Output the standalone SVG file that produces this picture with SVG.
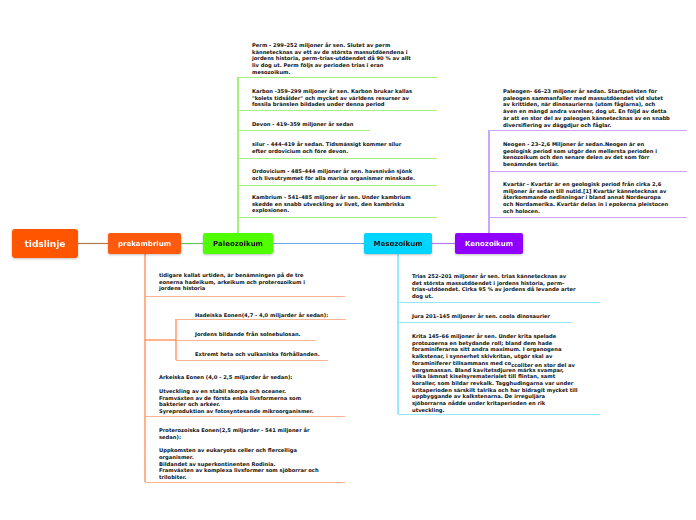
<svg xmlns="http://www.w3.org/2000/svg" width="696" height="520" viewBox="0 0 696 520">
<defs>
<filter id="sh" x="-20%" y="-20%" width="140%" height="150%">
<feDropShadow dx="0" dy="1" stdDeviation="1" flood-color="#000" flood-opacity="0.25"/>
</filter>
<style>
.t{font-family:"DejaVu Sans",Verdana,sans-serif;font-weight:bold;font-size:5.2px;fill:#111}
.nl{font-family:"DejaVu Sans",Verdana,sans-serif;font-weight:bold;font-size:7px;text-anchor:middle}
.ul{fill:none;stroke-width:1}
.g{stroke:#A6F07C}.gv{stroke:#6BE52C}
.p{stroke:#CDA2F7}.pv{stroke:#A66CF2}
.o{stroke:#FFB391}.ov{stroke:#FF7F3F}
.c{stroke:#93E7FF}.cv{stroke:#55DAFF}
</style>
</defs>
<rect width="696" height="520" fill="#fff"/>
<g id="connectors" fill="none" stroke-width="1.2">
<line x1="78" y1="243.5" x2="108" y2="243.5" stroke="#B27A48"/>
<line x1="181" y1="243.5" x2="203" y2="243.5" stroke="#66C65A"/>
<line x1="273" y1="243.5" x2="364" y2="243.5" stroke="#6AAAF0"/>
<line x1="432" y1="243.5" x2="455" y2="243.5" stroke="#B67CF5"/>
<line class="gv" x1="238" y1="77" x2="238" y2="233"/>
<line class="pv" x1="489" y1="130" x2="489" y2="233"/>
<line class="ov" x1="145" y1="254" x2="145" y2="482"/>
<line class="ov" x1="145" y1="340" x2="176" y2="340"/>
<line class="ov" x1="176" y1="319" x2="176" y2="360"/>
<line class="cv" x1="398" y1="254" x2="398" y2="414"/>
</g>
<g id="tidslinje" filter="url(#sh)">
<rect x="12" y="229" width="66" height="29" rx="3" fill="#FF5500"/>
<text x="45" y="246.8" class="nl" style="font-size:9px" fill="#fff">tidslinje</text>
</g>
<g id="prekambrium" filter="url(#sh)">
<rect x="108" y="233" width="73" height="21" rx="2" fill="#FF5A0A"/>
<text x="144.5" y="246.1" class="nl" fill="#fff">prekambrium</text>
</g>
<g id="paleozoikum" filter="url(#sh)">
<rect x="203" y="233" width="70" height="21" rx="2" fill="#50FF00"/>
<text x="238" y="246.1" class="nl" fill="#111">Paleozoikum</text>
</g>
<g id="mesozoikum" filter="url(#sh)">
<rect x="364" y="233" width="68" height="21" rx="2" fill="#00D5FF"/>
<text x="398" y="246.1" class="nl" fill="#111">Mesozoikum</text>
</g>
<g id="kenozoikum" filter="url(#sh)">
<rect x="455" y="233" width="68" height="21" rx="2" fill="#9000FF"/>
<text x="489" y="246.1" class="nl" fill="#fff">Kenozoikum</text>
</g>
<g id="perm">
<text class="t" x="252" y="47"><tspan x="252">Perm -  299–252 miljoner år sen. Slutet av perm</tspan><tspan x="252" dy="6.7">kännetecknas av ett av de största massutdöendena i</tspan><tspan x="252" dy="6.7">jordens historia, perm–trias-utdöendet då 90 % av allt</tspan><tspan x="252" dy="6.7">liv dog ut. Perm följs av perioden trias i eran</tspan><tspan x="252" dy="6.7">mesozoikum.</tspan></text>
<line class="ul g" x1="238" y1="77.5" x2="437" y2="77.5"/>
</g>
<g id="karbon">
<text class="t" x="252" y="93"><tspan x="252">Karbon -359–299 miljoner år sen. Karbon brukar kallas</tspan><tspan x="252" dy="6.7">"kolets tidsålder" och mycket av världens resurser av</tspan><tspan x="252" dy="6.7">fossila bränslen bildades under denna period</tspan></text>
<line class="ul g" x1="238" y1="110.5" x2="437" y2="110.5"/>
</g>
<g id="devon">
<text class="t" x="252" y="126">Devon - 419–359 miljoner år sedan</text>
<line class="ul g" x1="238" y1="130.5" x2="370" y2="130.5"/>
</g>
<g id="silur">
<text class="t" x="252" y="146"><tspan x="252">silur - 444–419 år sedan. Tidsmässigt kommer silur</tspan><tspan x="252" dy="6.7">efter ordovicium och före devon.</tspan></text>
<line class="ul g" x1="238" y1="158.5" x2="437" y2="158.5"/>
</g>
<g id="ordovicium">
<text class="t" x="252" y="173"><tspan x="252">Ordovicium - 485–444 miljoner år sen. havsnivån sjönk</tspan><tspan x="252" dy="6.7">och livsutrymmet för alla marina organismer minskade.</tspan></text>
<line class="ul g" x1="238" y1="185.5" x2="437" y2="185.5"/>
</g>
<g id="kambrium">
<text class="t" x="252" y="199"><tspan x="252">Kambrium - 541–485 miljoner år sen. Under kambrium</tspan><tspan x="252" dy="6.7">skedde en snabb utveckling av livet, den kambriska</tspan><tspan x="252" dy="6.7">explosionen.</tspan></text>
<line class="ul g" x1="238" y1="217.5" x2="437" y2="217.5"/>
</g>
<g id="paleogen">
<text class="t" x="503" y="93"><tspan x="503">Paleogen- 66–23 miljoner år sedan. Startpunkten för</tspan><tspan x="503" dy="6.7">paleogen sammanfaller med massutdöendet vid slutet</tspan><tspan x="503" dy="6.7">av krittiden, när dinosaurierna (utom fåglarna), och</tspan><tspan x="503" dy="6.7">även en mängd andra varelser, dog ut. En följd av detta</tspan><tspan x="503" dy="6.7">är att en stor del av paleogen kännetecknas av en snabb</tspan><tspan x="503" dy="6.7">diversifiering av däggdjur och fåglar.</tspan></text>
<line class="ul p" x1="489" y1="130.5" x2="687" y2="130.5"/>
</g>
<g id="neogen">
<text class="t" x="503" y="146"><tspan x="503">Neogen - 23–2,6 Miljoner år sedan.Neogen är en</tspan><tspan x="503" dy="6.7">geologisk period som utgör den mellersta perioden i</tspan><tspan x="503" dy="6.7">kenozoikum och den senare delen av det som förr</tspan><tspan x="503" dy="6.7">benämndes tertiär.</tspan></text>
<line class="ul p" x1="489" y1="171.5" x2="687" y2="171.5"/>
</g>
<g id="kvartar">
<text class="t" x="503" y="186"><tspan x="503">Kvartär -  Kvartär är en geologisk period från cirka 2,6</tspan><tspan x="503" dy="6.7">miljoner år sedan till nutid.[1] Kvartär kännetecknas av</tspan><tspan x="503" dy="6.7">återkommande nedisningar i bland annat Nordeuropa</tspan><tspan x="503" dy="6.7">och Nordamerika. Kvartär delas in i epokerna pleistocen</tspan><tspan x="503" dy="6.7">och holocen.</tspan></text>
<line class="ul p" x1="489" y1="217.5" x2="687" y2="217.5"/>
</g>
<g id="urtiden">
<text class="t" x="159" y="277"><tspan x="159"> tidigare kallat urtiden, är benämningen på de tre</tspan><tspan x="159" dy="6.7">eonerna hadeikum, arkeikum och proterozoikum i</tspan><tspan x="159" dy="6.7">jordens historia</tspan></text>
<line class="ul o" x1="145" y1="296.5" x2="345" y2="296.5"/>
</g>
<g id="hadeiska">
<text class="t" x="195" y="316.5">Hadeiska Eonen(4,7 - 4,0 miljarder år sedan):</text>
<line class="ul o" x1="176" y1="319.5" x2="346" y2="319.5"/>
</g>
<g id="jordens">
<text class="t" x="195" y="336">Jordens bildande från solnebulosan.</text>
<line class="ul o" x1="176" y1="340.5" x2="316" y2="340.5"/>
</g>
<g id="extremt">
<text class="t" x="195" y="355.7">Extremt heta och vulkaniska förhållanden.</text>
<line class="ul o" x1="176" y1="360.5" x2="328" y2="360.5"/>
</g>
<g id="arkeiska">
<text class="t" x="159" y="379"><tspan x="159">Arkeiska Eonen (4,0 - 2,5 miljarder år sedan):</tspan><tspan x="159" dy="13.8">Utveckling av en stabil skorpa och oceaner.</tspan><tspan x="159" dy="6.7">Framväxten av de första enkla livsformerna som</tspan><tspan x="159" dy="6.7">bakterier och arkéer.</tspan><tspan x="159" dy="6.7">Syreproduktion av fotosyntesande mikroorganismer.</tspan></text>
<line class="ul o" x1="145" y1="416.5" x2="345" y2="416.5"/>
</g>
<g id="proterozoiska">
<text class="t" x="159" y="432"><tspan x="159">Proterozoiska Eonen(2,5 miljarder - 541 miljoner år</tspan><tspan x="159" dy="6.7">sedan):</tspan><tspan x="159" dy="13.4">Uppkomsten av eukaryota celler och flercelliga</tspan><tspan x="159" dy="6.7">organismer.</tspan><tspan x="159" dy="6.7">Bildandet av superkontinenten Rodinia.</tspan><tspan x="159" dy="6.7">Framväxten av komplexa livsformer som sjöborrar och</tspan><tspan x="159" dy="6.7">trilobiter.</tspan></text>
<line class="ul o" x1="145" y1="482.5" x2="345" y2="482.5"/>
</g>
<g id="trias">
<text class="t" x="412" y="278"><tspan x="412">Trias 252–201 miljoner år sen. trias kännetecknas av</tspan><tspan x="412" dy="6.7">det största massutdöendet i jordens historia, perm–</tspan><tspan x="412" dy="6.7">trias-utdöendet. Cirka 95 % av jordens då levande arter</tspan><tspan x="412" dy="6.7">dog ut.</tspan></text>
<line class="ul c" x1="398" y1="302.5" x2="600" y2="302.5"/>
</g>
<g id="jura">
<text class="t" x="412" y="318">Jura 201–145 miljoner år sen. coola dinosaurier</text>
<line class="ul c" x1="398" y1="322.5" x2="572" y2="322.5"/>
</g>
<g id="krita">
<text class="t" x="412" y="338"><tspan x="412">Krita 145–66 miljoner år sen. Under krita spelade</tspan><tspan x="412" dy="6.7">protozoerna en betydande roll; bland dem hade</tspan><tspan x="412" dy="6.7">foraminiferarna sitt andra maximum. I organogena</tspan><tspan x="412" dy="6.7">kalkstenar, i synnerhet skivkritan, utgör skal av</tspan><tspan x="412" dy="6.7">foraminiferer tillsammans med co</tspan><tspan dy="1.8">ccoliter en stor del av</tspan><tspan x="412" dy="4.9">bergsmassan. Bland kavitetsdjuren märks svampar,</tspan><tspan x="412" dy="6.7">vilka lämnat kiselsyrematerialet till flintan, samt</tspan><tspan x="412" dy="6.7">koraller, som bildar revkalk. Tagghudingarna var under</tspan><tspan x="412" dy="6.7">kritaperioden särskilt talrika och har bidragit mycket till</tspan><tspan x="412" dy="6.7">uppbyggande av kalkstenarna. De irreguljära</tspan><tspan x="412" dy="6.7">sjöborrarna nådde under kritaperioden en rik</tspan><tspan x="412" dy="6.7">utveckling.</tspan></text>
<line class="ul c" x1="398" y1="414.5" x2="600" y2="414.5"/>
</g>
</svg>
